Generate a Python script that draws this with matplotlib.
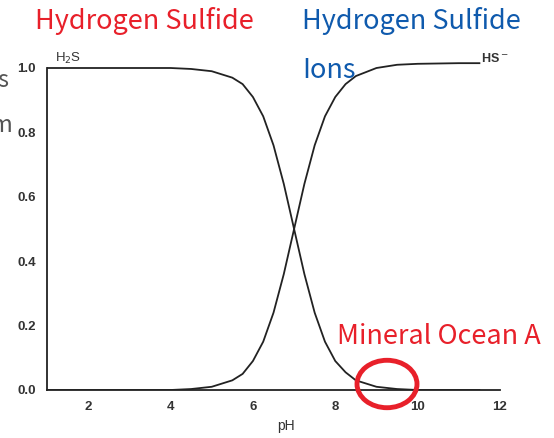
import matplotlib.pyplot as plt
from matplotlib.patches import Circle

# Values
ph = [1, 2, 3, 4, 4.5, 5, 5.5, 5.75, 6, 6.25, 6.5, 6.75, 7, 7.25, 7.5,
      7.75, 8, 8.25, 8.5, 9, 9.5, 10, 11, 11.5]
h2s = [1.0, 1.0, 1.0, 1.0, 0.997, 0.99, 0.97, 0.95, 0.91, 0.85, 0.76, 0.64,
       0.50, 0.36, 0.24, 0.15, 0.09, 0.055, 0.03, 0.01, 0.003, 0.0, 0.0, 0.0]
hs = [0.0, 0.0, 0.0, 0.0, 0.003, 0.01, 0.03, 0.05, 0.09, 0.15, 0.24, 0.36,
      0.50, 0.64, 0.76, 0.85, 0.91, 0.95, 0.975, 1.0, 1.01, 1.013, 1.015, 1.015]
x_ticks = [2, 4, 6, 8, 10, 12]
y_ticks = [0.0, 0.2, 0.4, 0.6, 0.8, 1.0]

W, H = 554, 438


def px(x, y):
    # figure pixel -> figure fraction
    return x / W, 1 - y / H


fig = plt.figure(figsize=(W / 100, H / 100), dpi=100)
# pH 1 at x=47, pH 12 at x=500 ; 0 at y=390, 1.0 at y=68
ax = fig.add_axes([47 / W, (H - 390) / H, 453 / W * (11.6 / 11), 322 / H * 1.06])
ax.set_xlim(1, 12.6)
ax.set_ylim(0, 1.06)

ax.plot(ph, h2s, color='#222222', lw=1.3)
ax.plot(ph, hs, color='#222222', lw=1.3)

for s in ['top', 'right']:
    ax.spines[s].set_visible(False)
ax.spines['bottom'].set_bounds(1, 12)
ax.spines['left'].set_bounds(0, 1.0)
for s in ['bottom', 'left']:
    ax.spines[s].set_color('#222222')
    ax.spines[s].set_linewidth(1.3)

ax.set_xticks(x_ticks)
ax.set_xticklabels([str(t) for t in x_ticks], fontweight='bold',
                   family='Liberation Sans', fontsize=9.5, color='#333333')
ax.set_yticks(y_ticks)
ax.set_yticklabels([f'{t:.1f}' for t in y_ticks], fontweight='bold',
                   family='Liberation Sans', fontsize=9.5, color='#333333')
ax.tick_params(length=0, pad=8)
ax.set_xlabel('pH', family='Liberation Sans', fontsize=10, color='#333333', labelpad=4)

ax.text(1.2, 1.02, r'H$_2$S', fontsize=9.5, color='#333333', family='Liberation Sans')
ax.text(11.55, 1.02, r'HS$^-$', fontsize=9, color='#333333', family='Liberation Sans',
        fontweight='bold')

red = '#e8202a'
blue = '#0f5aad'
font = ['Noto Sans CJK SC', 'DejaVu Sans']
fs = 19.5
fig.text(*px(35, 29), 'Hydrogen Sulfide', color=red, fontsize=fs, family=font,
         fontweight='medium', va='baseline')
fig.text(*px(302, 29), 'Hydrogen Sulfide', color=blue, fontsize=fs, family=font,
         fontweight='medium', va='baseline')
fig.text(*px(302, 78), 'Ions', color=blue, fontsize=fs, family=font,
         fontweight='medium', va='baseline')
fig.text(*px(337, 344), 'Mineral Ocean A', color=red, fontsize=fs, family=font,
         fontweight='medium', va='baseline')

# cropped fragments at the left edge
fig.text(*px(8, 87), 's', color='#555555', fontsize=17, family=font,
         ha='right', va='baseline')
fig.text(*px(13, 132), 'm', color='#555555', fontsize=17, family=font,
         ha='right', va='baseline')

fig.patches.append(Circle(px(387, 384), 30 / W, transform=fig.transFigure,
                          fill=False, edgecolor=red, lw=3.5))

fig.savefig('out.png', dpi=100)
